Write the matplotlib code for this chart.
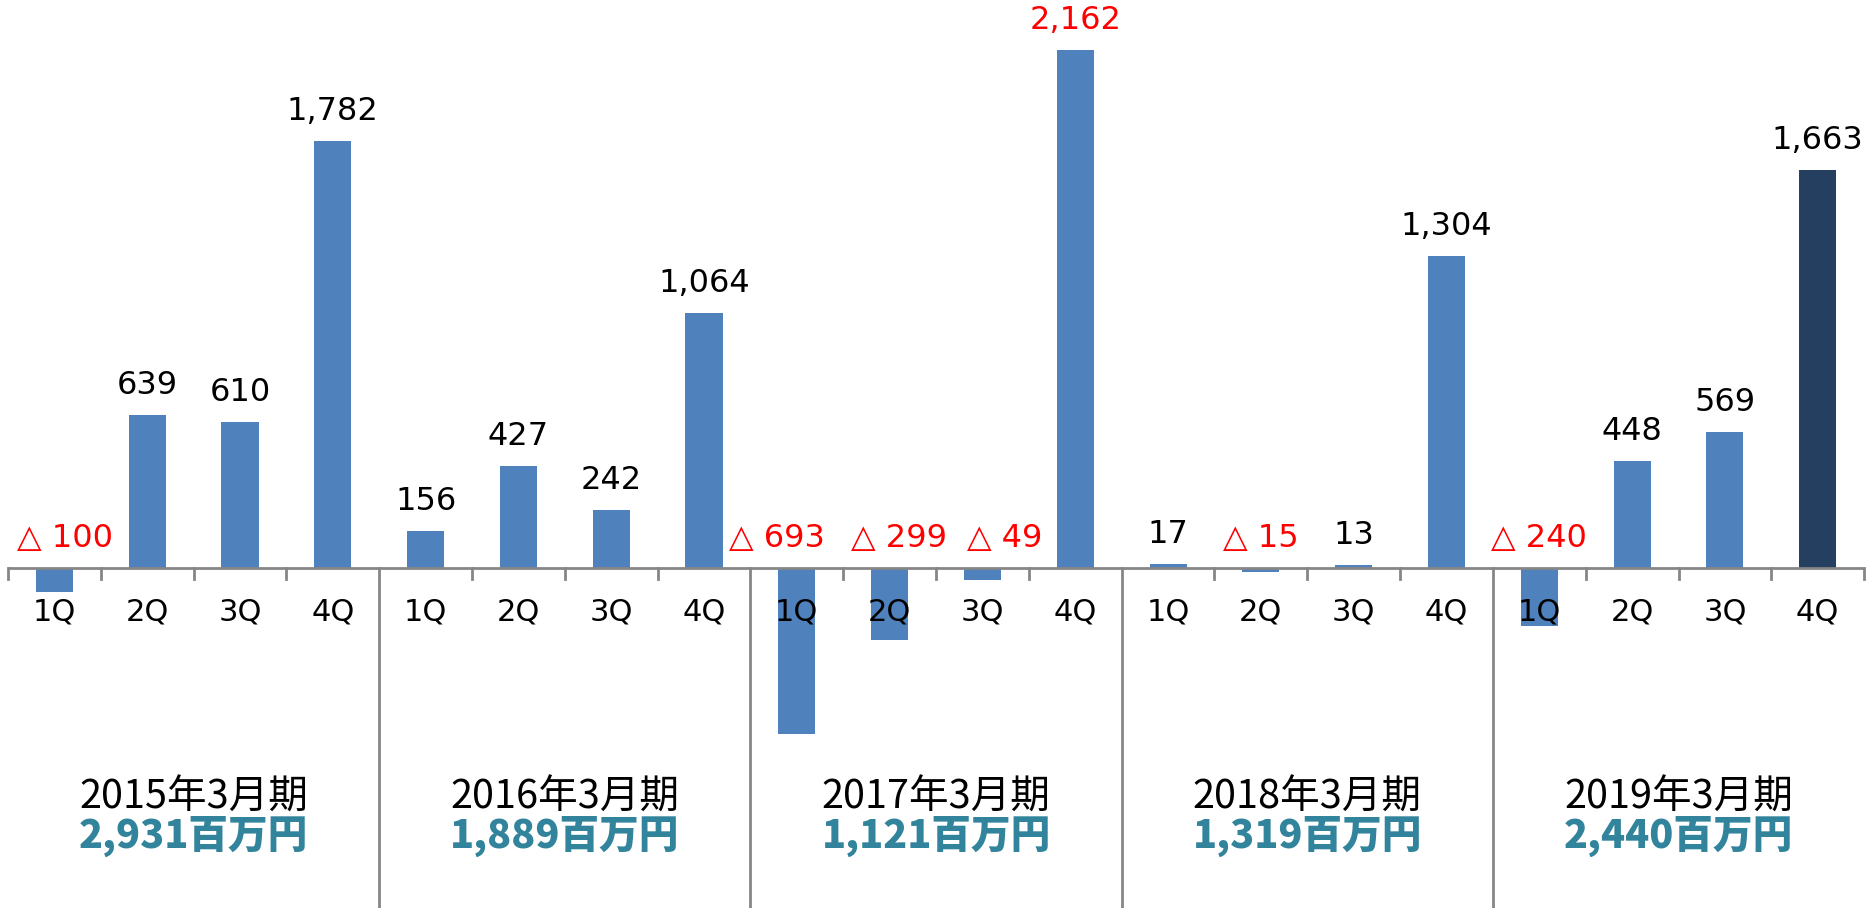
import numpy as np
import matplotlib
matplotlib.use("Agg")
import matplotlib.pyplot as plt

plt.rcParams['font.family'] = ['DejaVu Sans', 'Noto Sans CJK JP']

# quarterly values (million yen), negative = loss
years = ['2015年3月期', '2016年3月期', '2017年3月期', '2018年3月期', '2019年3月期']
totals = ['2,931百万円', '1,889百万円', '1,121百万円', '1,319百万円', '2,440百万円']
quarters = ['1Q', '2Q', '3Q', '4Q']
q2015 = [-100, 639, 610, 1782]
q2016 = [156, 427, 242, 1064]
q2017 = [-693, -299, -49, 2162]
q2018 = [17, -15, 13, 1304]
q2019 = [-240, 448, 569, 1663]
# the 2017 4Q label is printed in red in the original
red_labels = [11]

values = q2015 + q2016 + q2017 + q2018 + q2019
n = len(values)
x = np.arange(n)

blue = '#4F81BD'
navy = '#243F60'
grey = '#868686'
teal = '#31849B'
red = '#FF0000'

# horizontal nudges (points) so crowded loss labels don't touch
nudge = {0: 8, 8: -14, 9: 7, 10: 16}

fig = plt.figure(figsize=(18.66, 9.08), dpi=100)
ax = fig.add_axes([0, 0, 1, 1])

colors = [blue] * n
colors[-1] = navy
ax.bar(x, values, width=0.4, color=colors, zorder=1)

ax.set_xlim(-0.586, 19.52)
ax.set_ylim(-1419, 2371)
ax.axis('off')

# axis line, small ticks, group separators
ax.plot([-0.5, n - 0.5], [0, 0], color=grey, lw=2, zorder=3, solid_capstyle='butt')
for b in np.arange(-0.5, n, 1.0):
    if b in (3.5, 7.5, 11.5, 15.5):
        ax.plot([b, b], [0, -1419], color=grey, lw=2, zorder=3)
    else:
        ax.plot([b, b], [0, -46], color=grey, lw=2, zorder=3)

# quarter labels
for i in range(n):
    ax.annotate(quarters[i % 4], (i, 0), xytext=(0, -32), textcoords='offset points',
                ha='center', va='center', fontsize=22, color='black', zorder=4)

# value labels
for i, v in enumerate(values):
    if v < 0:
        ax.annotate('△ {:,}'.format(-v), (i, 0), xytext=(nudge.get(i, 0), 21),
                    textcoords='offset points', ha='center', va='center',
                    fontsize=23, color=red, zorder=4)
    else:
        c = red if i in red_labels else 'black'
        ax.annotate('{:,}'.format(v), (i, v), xytext=(0, 21), textcoords='offset points',
                    ha='center', va='center', fontsize=23, color=c, zorder=4)

# year and total labels
for g in range(len(years)):
    cx = g * 4 + 1.5
    ax.text(cx, 0.122, years[g], transform=ax.get_xaxis_transform(),
            ha='center', va='center', fontsize=28.5, color='black',
            family=['Noto Sans CJK JP', 'DejaVu Sans'])
    ax.text(cx, 0.079, totals[g], transform=ax.get_xaxis_transform(),
            ha='center', va='center', fontsize=28.5, color=teal, fontweight='heavy',
            family=['Noto Sans CJK JP', 'DejaVu Sans'])

fig.savefig('out.png', dpi=100)
